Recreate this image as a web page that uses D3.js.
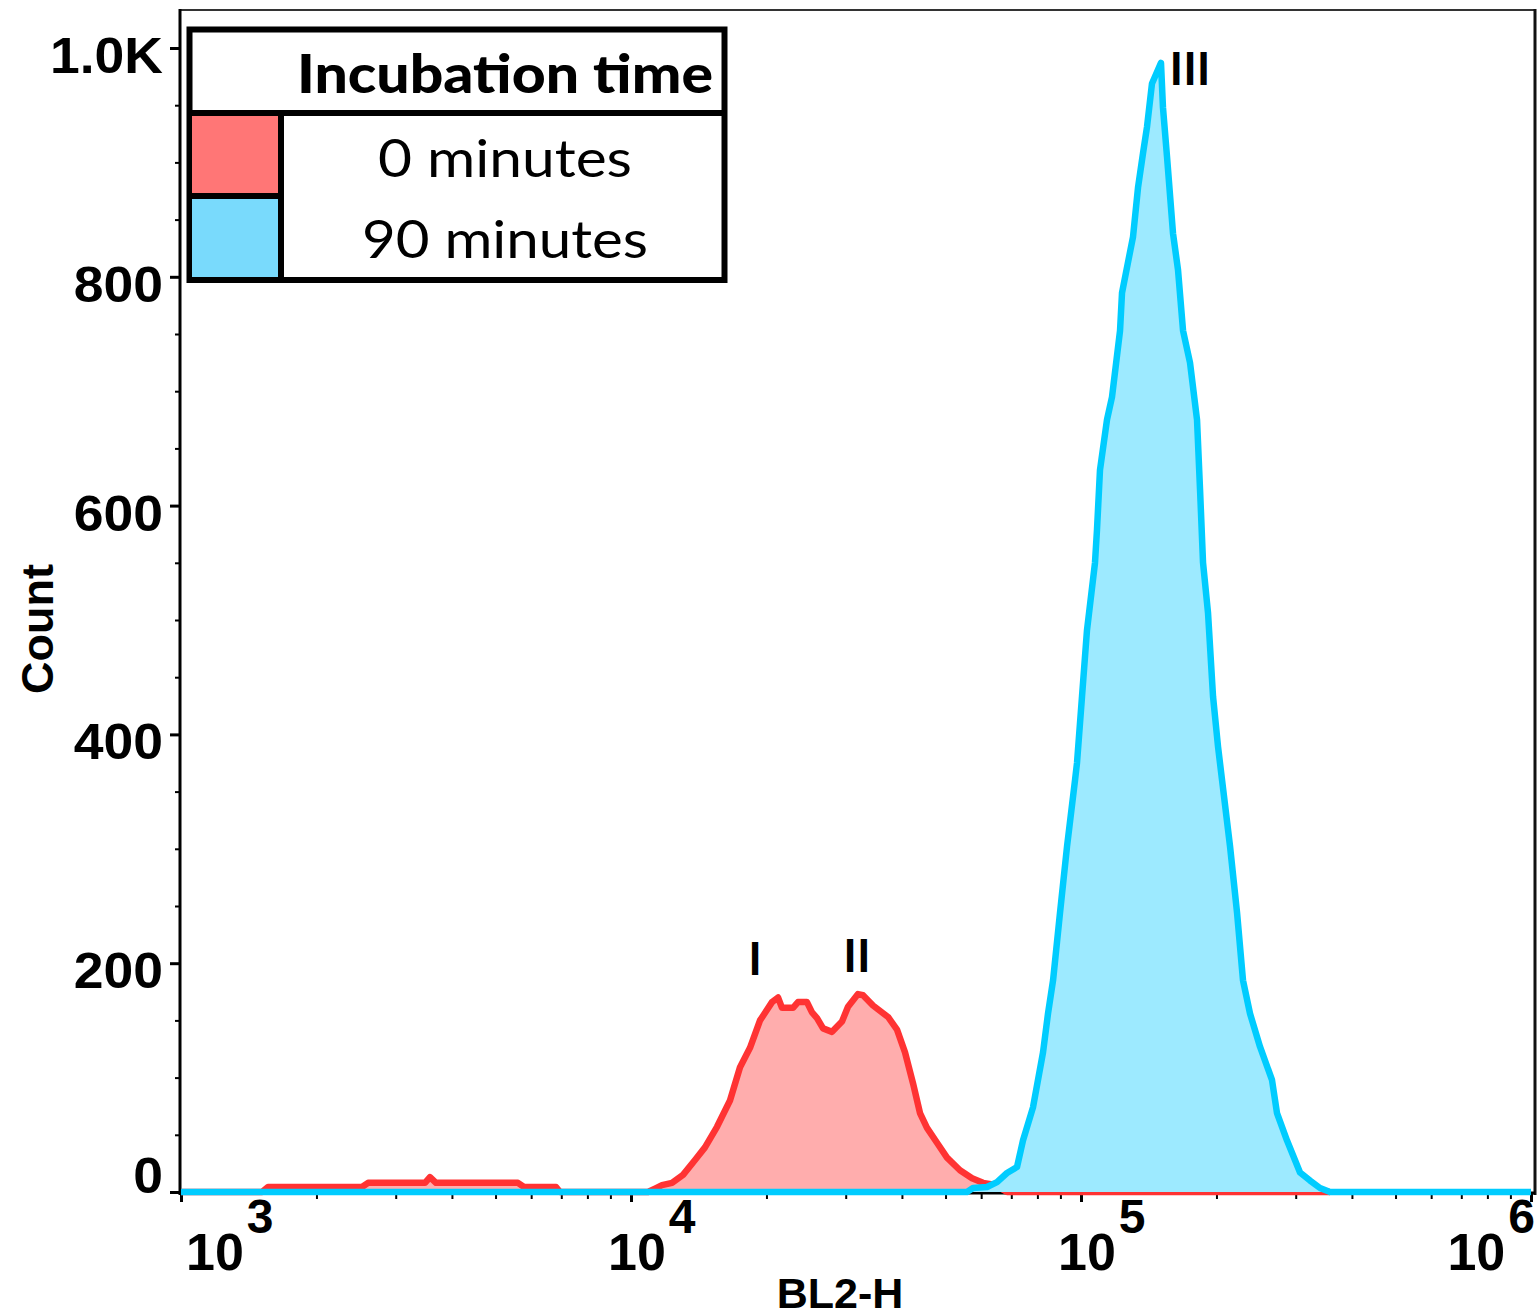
<!DOCTYPE html>
<html><head><meta charset="utf-8">
<script src="https://cdn.jsdelivr.net/npm/d3@7"></script>
<style>body{margin:0;background:#fff}</style>
</head><body><svg id="c" width="1539" height="1316"></svg>
<script>
// ---- data ----
const redBL2H  = [1000,1514,1561,2525,2604,3485,3575,3687,5608,5784,6813,6954,10909,11307,11720,12335,13050,13876,14601,15529,16596,17468,18385,19351,20575,21219,21657,22909,23502,24606,25250,25905,26715,27971,29437,30355,31950,32780,34500,37255,39006,40637,42335,43873,45474,47863,50378,53830,57262,60562,65070,67084,68480,357600];
const redCount = [0,0,4.4,4.4,8,8,13,8,8,4.4,4.4,0,0,3,6,8,15,28,39,57,80,109,126,150,166,170,161,161,166,166,157,152,143,140,149,162,173,172,163,153,142,122,95,69,56,43,30,19,12,8,6,2,0,0];
const blueBL2H  = [1000,55810,57544,61814,65070,68480,72080,74310,78220,82340,84470,86680,89810,93100,96990,97970,100510,103110,107420,108530,110200,114230,117210,122110,123350,130500,133880,137340,140180,143810,150580,152110,155290,160120,164290,168550,174680,181070,183880,186720,191560,196530,201650,205800,214400,222230,229090,237450,249900,265700,272600,286970,306700,322800,339700,357600,1000000];
const blueCount = [0,0,3.5,4.4,8.7,16.6,21.9,45,74,122,156,185,244,302,360,375,433,491,550,579,631,675,695,753,786,835,878,908,931,969,987,948,905,838,806,753,725,675,614,550,506,433,389,360,302,244,185,156,127,98,69,45,17,10,3.5,0,0];
const yTickValues = [0,200,400,600,800,1000];
const yTickLabels = ["0","200","400","600","800","1.0K"];
const xDecades = [3,4,5,6];
const legendTitle = "Incubation time";
const legendLabels = ["0 minutes","90 minutes"];
const peakLabels = ["I","II","III"];
const peakBL2H  = [18860,31780,174700];
const peakCount = [190,192,968];

// ---- layout ----
const svg = d3.select("#c");
const L = 180, R = 1535, T = 10, B = 1193;
const x = d3.scaleLog().domain([1e3,1e6]).range([181,1531]);
const y = d3.scaleLinear().domain([0,1000]).range([1192,48]);
const axisFont = "'Liberation Sans', Arial, sans-serif";
const calFont = "Lato, 'Open Sans', sans-serif";

// frame
svg.append("line").attr("x1",L).attr("x2",R).attr("y1",T).attr("y2",T).attr("stroke","#333").attr("stroke-width",2);
svg.append("line").attr("x1",R).attr("x2",R).attr("y1",T-1).attr("y2",B+2).attr("stroke","#111").attr("stroke-width",3);

// y axis
const minorY = d3.range(0,1001,50).filter(v => v % 200 !== 0);
svg.append("g").attr("transform",`translate(${L},0)`)
  .call(d3.axisLeft(y).tickValues(minorY).tickSize(5).tickFormat(""))
  .call(g => g.select(".domain").remove())
  .call(g => g.selectAll("line").attr("stroke","#000").attr("stroke-width",2));
svg.append("g").attr("transform",`translate(${L},0)`)
  .call(d3.axisLeft(y).tickValues(yTickValues).tickSize(10).tickFormat(""))
  .call(g => g.select(".domain").remove())
  .call(g => g.selectAll("line").attr("stroke","#000").attr("stroke-width",3));
svg.append("g").selectAll("text").data(yTickValues).join("text")
  .attr("transform",d=>`translate(163,${Math.min(y(d)+25,B)}) scale(1.07,1)`)
  .attr("text-anchor","end").attr("font-family",axisFont).attr("font-weight","bold").attr("font-size",50)
  .text((d,i)=>yTickLabels[i]);

// x axis
const minorX = [];
xDecades.slice(0,-1).forEach(d => { for (let k=2;k<=9;k++) minorX.push(k*Math.pow(10,d)); });
const majorX = xDecades.map(d => Math.pow(10,d));
svg.append("g").attr("transform",`translate(0,${B})`)
  .call(d3.axisBottom(x).tickValues(minorX).tickSize(6).tickFormat(""))
  .call(g => g.select(".domain").remove())
  .call(g => g.selectAll("line").attr("stroke","#000").attr("stroke-width",2));
svg.append("g").attr("transform",`translate(0,${B})`)
  .call(d3.axisBottom(x).tickValues(majorX).tickSize(9).tickFormat(""))
  .call(g => g.select(".domain").remove())
  .call(g => g.selectAll("line").attr("stroke","#000").attr("stroke-width",3));

// axis lines
svg.append("line").attr("x1",L).attr("x2",L).attr("y1",T-1).attr("y2",B+2).attr("stroke","#000").attr("stroke-width",3);
svg.append("line").attr("x1",L-1).attr("x2",R).attr("y1",B).attr("y2",B).attr("stroke","#000").attr("stroke-width",3);

// x labels
const xl = svg.append("g");
xDecades.forEach(d => {
  const t = xl.append("text").attr("y",1270).attr("font-family",axisFont).attr("font-weight","bold");
  t.append("tspan").attr("font-size",52).text("10");
  t.append("tspan").attr("font-size",48).attr("dx",3).attr("dy",-37).text(String(d));
  const w = t.node().getComputedTextLength() + 3;
  const pos = Math.max(186, Math.min(x(Math.pow(10,d)) - 23, R - w));
  t.attr("x",pos);
});

// histograms
const redData = redBL2H.map((v,i)=>({v, c:redCount[i]}));
const blueData = blueBL2H.map((v,i)=>({v, c:blueCount[i]}));
const area = d3.area().x(d=>x(d.v)).y0(y(0)).y1(d=>y(d.c));
const line = d3.line().x(d=>x(d.v)).y(d=>y(d.c));
svg.append("path").datum(redData).attr("d",area).attr("fill","#ffadad");
svg.append("path").datum(redData).attr("d",line).attr("fill","none").attr("stroke","#ff3333").attr("stroke-width",6.5).attr("stroke-linejoin","round");
svg.append("path").datum(blueData).attr("d",area).attr("fill","#9deaff");
svg.append("path").datum(blueData).attr("d",line).attr("fill","none").attr("stroke","#00ccff").attr("stroke-width",6.5).attr("stroke-linejoin","round");

// peak labels
svg.append("g").selectAll("text").data(peakLabels).join("text")
  .attr("x",(d,i)=>x(peakBL2H[i])).attr("y",(d,i)=>y(peakCount[i]))
  .attr("text-anchor","middle").attr("font-family",calFont).attr("font-weight","bold").attr("font-size",46)
  .text(d=>d);

// axis titles
svg.append("text").attr("x",840).attr("y",1308).attr("text-anchor","middle")
  .attr("font-family",axisFont).attr("font-weight","bold").attr("font-size",43).text("BL2-H");
svg.append("text").attr("transform","translate(53,629) rotate(-90)").attr("text-anchor","middle")
  .attr("font-family",axisFont).attr("font-weight","bold").attr("font-size",45).text("Count");

// legend
const lg = svg.append("g");
lg.append("rect").attr("x",189.5).attr("y",29.5).attr("width",535).attr("height",250.5).attr("fill","#fff").attr("stroke","#000").attr("stroke-width",6);
lg.append("rect").attr("x",192).attr("y",116).attr("width",87).attr("height",78).attr("fill","#ff7676");
lg.append("rect").attr("x",192).attr("y",198).attr("width",87).attr("height",79).attr("fill","#79dafc");
lg.append("line").attr("x1",189.5).attr("x2",724.5).attr("y1",113).attr("y2",113).attr("stroke","#000").attr("stroke-width",6);
lg.append("line").attr("x1",189.5).attr("x2",281).attr("y1",196).attr("y2",196).attr("stroke","#000").attr("stroke-width",6);
lg.append("line").attr("x1",281).attr("x2",281).attr("y1",113).attr("y2",280).attr("stroke","#000").attr("stroke-width",6);
lg.append("text").attr("x",505).attr("y",93).attr("text-anchor","middle").attr("font-family",calFont).attr("font-weight","900")
  .attr("font-size",53).attr("textLength",416).attr("lengthAdjust","spacingAndGlyphs").text(legendTitle);
const lw = [254,286];
lg.selectAll("text.lab").data(legendLabels).join("text").attr("class","lab")
  .attr("x",505).attr("y",(d,i)=>177+i*81).attr("text-anchor","middle").attr("font-family",calFont)
  .attr("font-size",52).attr("textLength",(d,i)=>lw[i]).attr("lengthAdjust","spacingAndGlyphs").text(d=>d);
</script></body></html>
